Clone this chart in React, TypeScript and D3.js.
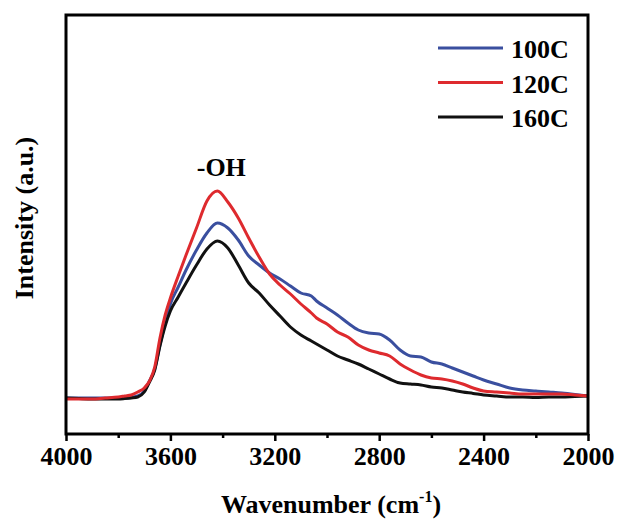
import React, { useEffect, useRef } from "react";
import * as d3 from "d3";

// wavenumber grid (cm-1)
const wavenumbers = [
  4000, 3950, 3900, 3850, 3800, 3775, 3750, 3725, 3700, 3680, 3660, 3640, 3620, 3600,
  3570, 3540, 3500, 3460, 3420, 3380, 3340, 3300, 3260, 3220, 3180, 3140, 3100, 3060,
  3040, 3000, 2960, 2920, 2880, 2840, 2800, 2760, 2720, 2680, 2640, 2600, 2560, 2520,
  2480, 2440, 2400, 2350, 2300, 2250, 2200, 2150, 2100, 2050, 2000,
];

const s100 = [
  0, 0, 0, 0, 0, 0, 0.003, 0.01, 0.035, 0.085, 0.145, 0.265, 0.375, 0.47,
  0.555, 0.64, 0.74, 0.825, 0.875, 0.85, 0.79, 0.71, 0.665, 0.625, 0.595, 0.56, 0.525, 0.51,
  0.485, 0.45, 0.415, 0.375, 0.34, 0.325, 0.32, 0.29, 0.24, 0.21, 0.205, 0.18, 0.17, 0.15,
  0.13, 0.11, 0.09, 0.07, 0.05, 0.04, 0.035, 0.03, 0.025, 0.018, 0.01,
];

const s120 = [
  -0.005, -0.005, -0.005, 0, 0.005, 0.01, 0.015, 0.03, 0.05, 0.085, 0.155, 0.3, 0.415, 0.5,
  0.61, 0.715, 0.85, 0.985, 1.035, 0.98, 0.9, 0.8, 0.705, 0.62, 0.565, 0.52, 0.47, 0.425,
  0.4, 0.37, 0.33, 0.305, 0.265, 0.24, 0.225, 0.21, 0.17, 0.14, 0.115, 0.1, 0.095, 0.085,
  0.07, 0.05, 0.035, 0.03, 0.025, 0.02, 0.02, 0.02, 0.02, 0.015, 0.01,
];

const s160 = [
  0, -0.003, -0.005, -0.005, -0.005, -0.003, 0, 0.005, 0.03, 0.08, 0.14, 0.26, 0.36, 0.435,
  0.505, 0.575, 0.665, 0.745, 0.785, 0.75, 0.665, 0.575, 0.525, 0.465, 0.41, 0.355, 0.315, 0.285,
  0.27, 0.24, 0.21, 0.19, 0.17, 0.145, 0.12, 0.095, 0.075, 0.07, 0.065, 0.055, 0.05, 0.04,
  0.03, 0.023, 0.015, 0.01, 0.005, 0.005, 0.003, 0.005, 0.005, 0.008, 0.01,
];

const seriesNames = ["100C", "120C", "160C"];
const seriesColors = ["#3a4f9f", "#de2a2e", "#111111"];
const majorTicks = [4000, 3600, 3200, 2800, 2400, 2000];
const minorTicks = [3800, 3400, 3000, 2600, 2200];

const font = "'Liberation Serif', 'Times New Roman', serif";

const App = () => {
  const ref = useRef<SVGSVGElement>(null);

  const width = 619;
  const height = 526;
  const margin = { top: 15, right: 31, bottom: 92, left: 66 };

  useEffect(() => {
    const svg = d3.select(ref.current);
    svg.selectAll("*").remove();

    const x = d3.scaleLinear().domain([4000, 2000]).range([margin.left, width - margin.right]);
    const y = d3.scaleLinear().domain([-0.18, 1.915]).range([height - margin.bottom, margin.top]);

    const line = d3
      .line<number>()
      .x((_, i) => x(wavenumbers[i]))
      .y((d) => y(d))
      .curve(d3.curveMonotoneX);

    const g = svg.append("g");
    // draw order: blue, black, red on top
    [0, 2, 1].forEach((k) => {
      const vals = [s100, s120, s160][k];
      g.append("path")
        .attr("d", line(vals))
        .attr("fill", "none")
        .attr("stroke", seriesColors[k])
        .attr("stroke-width", 3)
        .attr("stroke-linejoin", "round");
    });

    // frame
    svg
      .append("rect")
      .attr("x", margin.left)
      .attr("y", margin.top)
      .attr("width", width - margin.left - margin.right)
      .attr("height", height - margin.top - margin.bottom)
      .attr("fill", "none")
      .attr("stroke", "#000")
      .attr("stroke-width", 3);

    const xAxis = d3
      .axisBottom(x)
      .tickValues(majorTicks)
      .tickSize(7)
      .tickSizeOuter(0)
      .tickPadding(6)
      .tickFormat(d3.format("d"));
    const ax = svg
      .append("g")
      .attr("transform", `translate(0, ${height - margin.bottom})`)
      .call(xAxis);
    ax.select(".domain").remove();
    ax.selectAll(".tick line").attr("stroke", "#000").attr("stroke-width", 2.5);
    ax.selectAll(".tick text")
      .attr("font-family", font)
      .attr("font-weight", "bold")
      .attr("font-size", 26)
      .attr("fill", "#000");

    const minor = d3.axisBottom(x).tickValues(minorTicks).tickSize(4).tickSizeOuter(0).tickFormat(() => "");
    const mx = svg
      .append("g")
      .attr("transform", `translate(0, ${height - margin.bottom})`)
      .call(minor);
    mx.select(".domain").remove();
    mx.selectAll(".tick line").attr("stroke", "#000").attr("stroke-width", 2.5);

    // axis titles
    const xt = svg
      .append("text")
      .attr("x", 331)
      .attr("y", 513)
      .attr("text-anchor", "middle")
      .attr("font-family", font)
      .attr("font-weight", "bold")
      .attr("font-size", 26);
    xt.append("tspan").text("Wavenumber (cm");
    xt.append("tspan").attr("font-size", 16).attr("dy", -11).text("-1");
    xt.append("tspan").attr("dy", 11).text(")");

    svg
      .append("text")
      .attr("transform", `translate(33, 218) rotate(-90)`)
      .attr("text-anchor", "middle")
      .attr("font-family", font)
      .attr("font-weight", "bold")
      .attr("font-size", 26)
      .text("Intensity (a.u.)");

    svg
      .append("text")
      .attr("x", x(3405))
      .attr("y", 176)
      .attr("text-anchor", "middle")
      .attr("font-family", font)
      .attr("font-weight", "bold")
      .attr("font-size", 26)
      .text("-OH");

    // legend
    const legend = svg.append("g");
    seriesNames.forEach((name, i) => {
      const ly = 48 + i * 34.5;
      legend
        .append("line")
        .attr("x1", 438)
        .attr("x2", 503)
        .attr("y1", ly)
        .attr("y2", ly)
        .attr("stroke", seriesColors[i])
        .attr("stroke-width", 3);
      legend
        .append("text")
        .attr("x", 511)
        .attr("y", ly + 10)
        .attr("font-family", font)
        .attr("font-weight", "bold")
        .attr("font-size", 26)
        .text(name);
    });
  }, []);

  return (
    <svg
      ref={ref}
      width={width}
      height={height}
      style={{ position: "absolute", left: 0, top: 0, background: "#fff" }}
    ></svg>
  );
};

export default App;
